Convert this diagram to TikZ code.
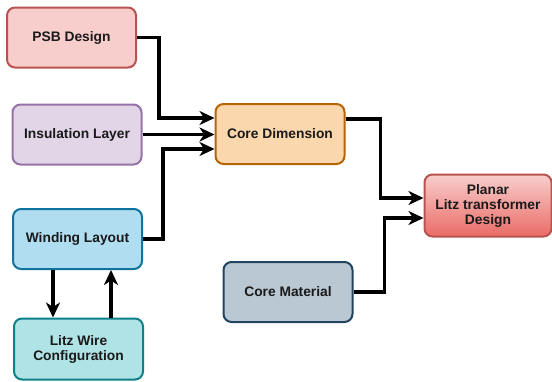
\documentclass[tikz,border=0pt]{standalone}
\usepackage{fontspec}
\setmainfont{Liberation Sans}
\usetikzlibrary{arrows.meta}

% draw.io style palette
\definecolor{redfill}{HTML}{F8CECC}\definecolor{redline}{HTML}{B85450}
\definecolor{redgrad}{HTML}{EA6B66}
\definecolor{purfill}{HTML}{E1D5E7}\definecolor{purline}{HTML}{9673A6}
\definecolor{orafill}{HTML}{FAD7AC}\definecolor{oraline}{HTML}{B46504}
\definecolor{bluefill}{HTML}{B1DDF0}\definecolor{blueline}{HTML}{10739E}
\definecolor{tealfill}{HTML}{B0E3E6}\definecolor{tealline}{HTML}{0E8088}
\definecolor{grayfill}{HTML}{BAC8D3}\definecolor{grayline}{HTML}{23445D}
\definecolor{txt}{HTML}{1A1A1A}

\tikzset{
  block/.style={draw, line width=2pt, rounded corners=8pt, minimum width=129pt,
    minimum height=60pt, align=center, text=txt,
    font=\fontsize{13.8}{15}\selectfont\bfseries, inner sep=2pt},
  link/.style={line width=3.2pt, black,
    -{Stealth[length=15pt, width=14pt, inset=4.5pt]}},
}

\begin{document}
\begin{tikzpicture}[x=1pt, y=-1pt]
  \useasboundingbox (0,0) rectangle (552,381);

  \node[block, fill=redfill, draw=redline] (psb) at (71.5,37.5) {PSB Design};
  \node[block, fill=purfill, draw=purline] (ins) at (77,134.5) {Insulation Layer};
  \node[block, fill=orafill, draw=oraline] (cd) at (280,134) {Core Dimension};
  \node[block, fill=bluefill, draw=blueline] (wl) at (77.5,239) {Winding Layout};
  \node[block, fill=tealfill, draw=tealline, minimum height=61pt] (lw) at (78.5,349) {Litz Wire\\Configuration};
  \node[block, fill=grayfill, draw=grayline] (cm) at (288,292) {Core Material};
  \node[block, top color=redfill, bottom color=redgrad, draw=redline,
        minimum width=127pt, minimum height=62pt] (pl) at (488,205.5)
        {Planar\\Litz transformer\\Design};

  % inputs to the core dimension
  \draw[link] (psb.east) -- ++(22,0) |- ([yshift=16pt]cd.west);
  \draw[link] (ins.east) -- (ins.east -| cd.west);
  \draw[link] (wl.east) -- ++(20,0) |- ([yshift=-15pt]cd.west);

  % inputs to the transformer design
  \draw[link] ([yshift=15pt]cd.east) -- ++(35,0) |- ([yshift=7.5pt]pl.west);
  \draw[link] (cm.east) -- ++(31,0) |- ([yshift=-12.5pt]pl.west);

  % winding layout <-> litz wire loop
  \draw[link] ([xshift=-24.5pt]wl.south) -- ([xshift=-24.5pt]wl.south |- lw.north);
  \draw[link] ([xshift=32.5pt]lw.north) -- ([xshift=32.5pt]lw.north |- wl.south);
\end{tikzpicture}
\end{document}
